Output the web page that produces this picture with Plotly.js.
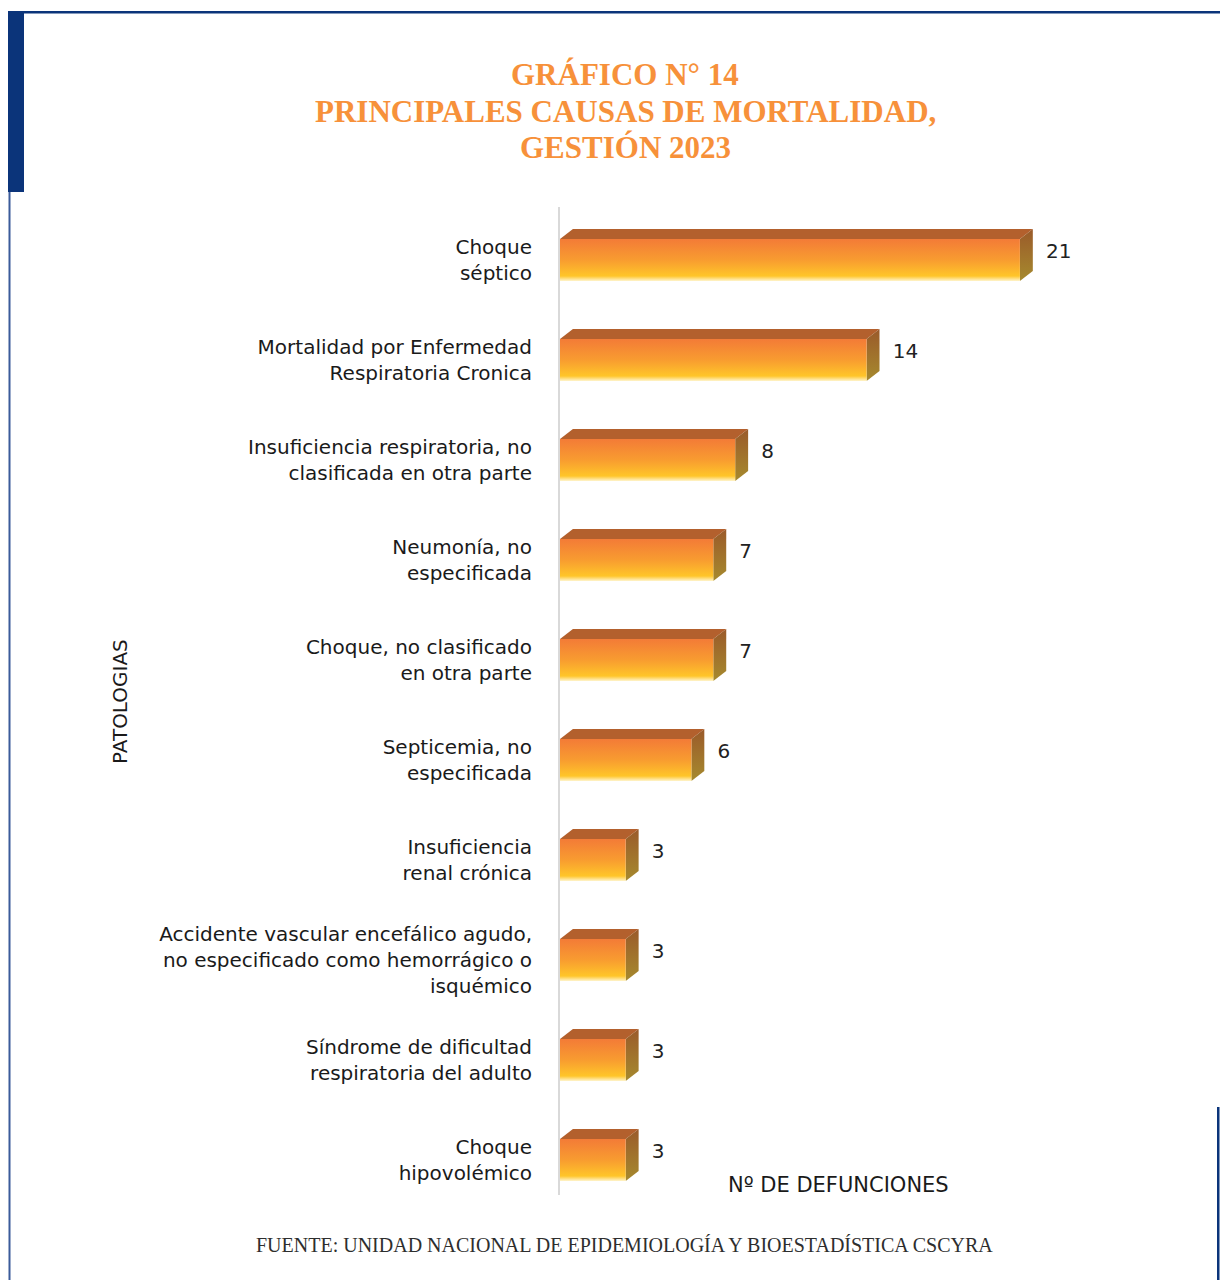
<!DOCTYPE html>
<html><head><meta charset="utf-8">
<script src="https://cdn.plot.ly/plotly-3.0.1.min.js"></script>
<style>body{margin:0;background:#fff}#chart{width:1220px;height:1280px}</style>
</head><body><div id="chart"></div>
<script>
// ---- data ----
const categories = [
  "Choque<br>séptico",
  "Mortalidad por Enfermedad<br>Respiratoria Cronica",
  "Insuficiencia respiratoria, no<br>clasificada en otra parte",
  "Neumonía, no<br>especificada",
  "Choque, no clasificado<br>en otra parte",
  "Septicemia, no<br>especificada",
  "Insuficiencia<br>renal crónica",
  "Accidente vascular encefálico agudo,<br>no especificado como hemorrágico o<br>isquémico",
  "Síndrome de dificultad<br>respiratoria del adulto",
  "Choque<br>hipovolémico"
];
const values = [21, 14, 8, 7, 7, 6, 3, 3, 3, 3];
const titleLines = ["GRÁFICO N° 14", "PRINCIPALES CAUSAS DE MORTALIDAD,", "GESTIÓN 2023"];
const yTitle = "PATOLOGIAS";
const xTitle = "Nº DE DEFUNCIONES";
const sourceText = "FUENTE: UNIDAD NACIONAL DE EPIDEMIOLOGÍA Y BIOESTADÍSTICA CSCYRA";

// ---- layout geometry ----
const L = 560, R = 1120, T = 207, B = 1195;
const W = R - L, H = B - T;
const HALF = 0.21;   // half height of bar front (category units)
const DX = 0.59;     // depth in x (value units)
const DY = 0.10;     // depth in y (category units)
const px2x = p => (p - L) / W;
const py2y = p => (B - p) / H;
const py2cat = p => (p - 260) / 100;

const traces = [];
values.forEach((v, i) => {
  const y0 = i - HALF, y1 = i + HALF;
  // top face
  traces.push({
    type: 'scatter', mode: 'lines', hoverinfo: 'skip', showlegend: false,
    x: [0, v, v + DX, DX, 0], y: [y0, y0, y0 - DY, y0 - DY, y0],
    fill: 'toself', fillcolor: '#B3602D', line: {width: 0, color: 'rgba(0,0,0,0)'}
  });
  // side face
  traces.push({
    type: 'scatter', mode: 'lines', hoverinfo: 'skip', showlegend: false,
    x: [v, v + DX, v + DX, v, v], y: [y0, y0 - DY, y1 - DY, y1, y0],
    fill: 'toself',
    fillgradient: {type: 'vertical', colorscale: [[0, '#A68A2E'], [1, '#9A5A2A']]},
    line: {width: 0, color: 'rgba(0,0,0,0)'}
  });
  // front face
  traces.push({
    type: 'scatter', mode: 'lines', hoverinfo: 'skip', showlegend: false,
    x: [0, v, v, 0, 0], y: [y0, y0, y1, y1, y0],
    fill: 'toself',
    fillgradient: {type: 'vertical', colorscale: [[0, '#FFF4CC'], [0.12, '#FFC529'], [0.5, '#F89C30'], [1, '#F37B37']]},
    line: {width: 0, color: 'rgba(0,0,0,0)'}
  });
});
// value labels
traces.push({
  type: 'scatter', mode: 'text', hoverinfo: 'skip', showlegend: false,
  x: values.map(v => v + DX + 0.6), y: values.map((v, i) => i - 0.07),
  text: values.map(String), textposition: 'middle right',
  textfont: {family: 'DejaVu Sans', size: 20, color: '#222'}
});

const blue = '#0B347A';
const titleY = [74, 112, 148];
const titleAnns = titleLines.map((t, k) => ({
  text: '<b>' + t + '</b>', xref: 'paper', yref: 'paper', x: px2x(625), y: py2y(titleY[k]),
  showarrow: false, xanchor: 'center', yanchor: 'middle',
  font: {family: 'Liberation Serif', size: 31, color: '#F7913A'}
}));

const layout = {
  width: 1220, height: 1280,
  margin: {l: L, r: 1220 - R, t: T, b: 1280 - B, pad: 0},
  paper_bgcolor: '#ffffff', plot_bgcolor: 'rgba(0,0,0,0)',
  showlegend: false,
  xaxis: {
    range: [0, W / 21.9], showgrid: false, zeroline: false, showticklabels: false,
    showline: false, fixedrange: true
  },
  yaxis: {
    range: [py2cat(B), py2cat(T)],
    tickmode: 'array', tickvals: categories.map((c, i) => i), ticktext: categories,
    showgrid: false, zeroline: false, showline: true, linecolor: '#D9D9D9', linewidth: 2,
    ticks: '', ticklabelstandoff: 22,
    tickfont: {family: 'DejaVu Sans', size: 20, color: '#1a1a1a'}, fixedrange: true
  },
  annotations: titleAnns.concat([
    {text: yTitle, xref: 'paper', yref: 'paper', x: px2x(120), y: py2y(702),
     textangle: -90, showarrow: false, xanchor: 'center', yanchor: 'middle',
     font: {family: 'DejaVu Sans', size: 20, color: '#1a1a1a'}},
    {text: xTitle, xref: 'paper', yref: 'paper', x: px2x(838), y: py2y(1185),
     showarrow: false, xanchor: 'center', yanchor: 'middle',
     font: {family: 'DejaVu Sans', size: 21, color: '#1a1a1a'}},
    {text: sourceText, xref: 'paper', yref: 'paper', x: px2x(624), y: py2y(1245),
     showarrow: false, xanchor: 'center', yanchor: 'middle',
     font: {family: 'Liberation Serif', size: 20, color: '#2e2e2e'}}
  ]),
  shapes: [
    {type: 'rect', xref: 'paper', yref: 'paper', x0: px2x(8), x1: px2x(24), y0: py2y(11), y1: py2y(192),
     fillcolor: blue, line: {width: 0}, layer: 'above'},
    {type: 'rect', xref: 'paper', yref: 'paper', x0: px2x(24), x1: px2x(1220), y0: py2y(11), y1: py2y(13.5),
     fillcolor: blue, line: {width: 0}, layer: 'above'},
    {type: 'rect', xref: 'paper', yref: 'paper', x0: px2x(8.5), x1: px2x(10.5), y0: py2y(192), y1: py2y(1280),
     fillcolor: '#3B5B9A', line: {width: 0}, layer: 'above'},
    {type: 'rect', xref: 'paper', yref: 'paper', x0: px2x(1217), x1: px2x(1219.5), y0: py2y(1107), y1: py2y(1280),
     fillcolor: blue, line: {width: 0}, layer: 'above'}
  ]
};

Plotly.newPlot('chart', traces, layout, {displayModeBar: false, staticPlot: true});
</script></body></html>
